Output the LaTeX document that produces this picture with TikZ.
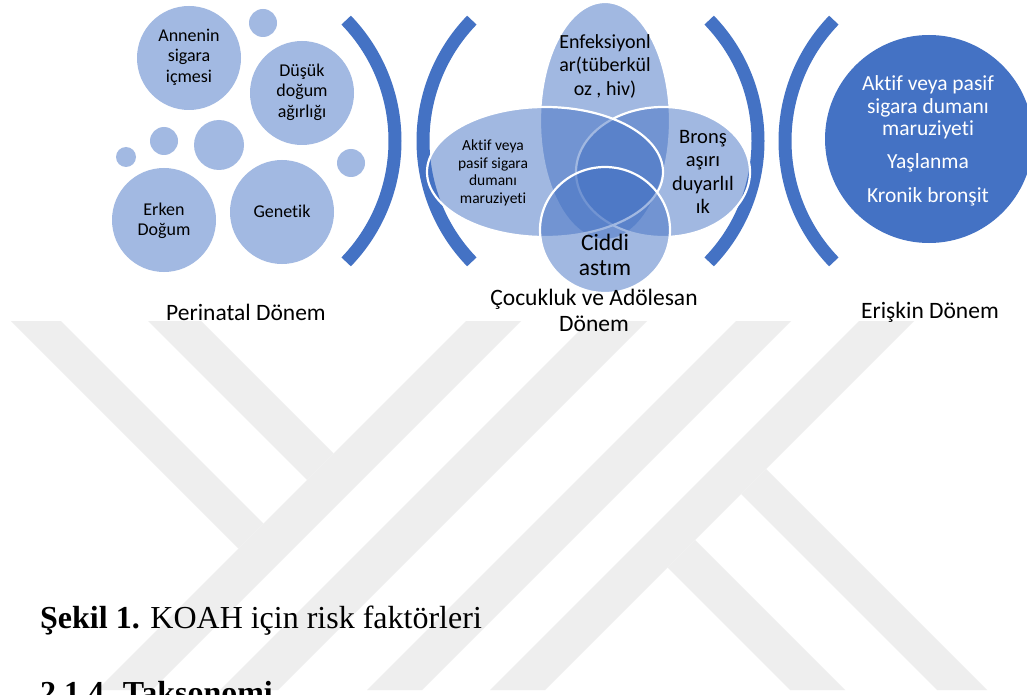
\documentclass[tikz,border=0pt]{standalone}
\usepackage{fontspec}
\setmainfont{Carlito}[Ligatures=NoCommon]
\newfontfamily\tnr{Liberation Serif}
\definecolor{acc}{HTML}{4472C4}
\definecolor{lb}{HTML}{A2B9E2}
\definecolor{wm}{HTML}{EEEEEE}
\newcommand{\myfs}[2]{\fontsize{#1}{#2}\selectfont}
\begin{document}
\begin{tikzpicture}[x=1pt,y=-1pt,
  bub/.style={circle, fill=lb, inner sep=0},
  ven/.style={fill=acc, fill opacity=0.5, draw=white, draw opacity=1, line width=2.2pt},
  brk/.style={draw=acc, line width=13pt},
  txt/.style={inner sep=0, align=center, text=black},
  lab/.style={inner sep=0, align=center, text=black, font=\myfs{23.5}{26}},
]
\fill[white] (0,0) rectangle (1027,695);
\useasboundingbox (0,0) rectangle (1027,695);
% watermark
\fill[wm] (466,321) -- (521,321) -- (152,690) -- (97,690) -- cycle;
\fill[wm] (589,321) -- (647,321) -- (278,690) -- (220,690) -- cycle;
\fill[wm] (736,321) -- (791,321) -- (422,690) -- (367,690) -- cycle;
\fill[wm] (859,321) -- (914,321) -- (545,690) -- (490,690) -- cycle;
\fill[wm] (11,321) -- (61,321) -- (263.5,523.5) -- (238.5,548.5) -- cycle;
\fill[wm] (148,321) -- (201,321) -- (333.5,453.5) -- (307,480) -- cycle;
\fill[wm] (766,469) -- (987,690) -- (937,690) -- (741,494) -- cycle;
\fill[wm] (695,540) -- (845,690) -- (790,690) -- (667.5,567.5) -- cycle;

% perinatal bubbles
\node[bub, minimum size=104pt] (anne) at (189,58) {};
\node[bub, minimum size=28pt] (s1) at (263,23) {};
\node[bub, minimum size=104pt] (dusuk) at (302,93) {};
\node[bub, minimum size=50pt] (m1) at (219,145) {};
\node[bub, minimum size=28pt] (s2) at (164,141) {};
\node[bub, minimum size=20pt] (s3) at (126,157) {};
\node[bub, minimum size=104pt] (erken) at (164,220) {};
\node[bub, minimum size=104pt] (gen) at (282,212) {};
\node[bub, minimum size=28pt] (s4) at (351,163) {};
\node[txt, font=\myfs{18}{20.5}] (tanne) at (189,57) {Annenin\\sigara\\içmesi};
\node[txt, font=\myfs{18}{20.5}] (tdusuk) at (302,92) {Düşük\\doğum\\ağırlığı};
\node[txt, font=\myfs{18}{19.5}] (terken) at (164,221) {Erken\\Doğum};
\node[txt, font=\myfs{18}{20.5}] (tgen) at (282,211) {Genetik};

% brackets
\draw[brk] (221,141) ++(-44:174) arc[start angle=-44, end angle=44, radius=174];
\draw[brk] (597,141) ++(136:174) arc[start angle=136, end angle=224, radius=174];
\draw[brk] (584,141) ++(-44:174) arc[start angle=-44, end angle=44, radius=174];
\draw[brk] (959,141) ++(136:174) arc[start angle=136, end angle=224, radius=174];

% venn
\draw[ven] (605,121) ellipse [x radius=65, y radius=119];
\draw[ven] (663,172) ellipse [x radius=87, y radius=65];
\draw[ven] (545,172) ellipse [x radius=118, y radius=65];
\draw[ven] (605,230) ellipse [x radius=65, y radius=63];
\node[txt, font=\myfs{20}{23.5}] (tenf) at (605,66) {Enfeksiyonl\\ar(tüberkül\\oz , hiv)};
\node[txt, font=\myfs{15.5}{17.5}] (takt) at (493,173) {Aktif veya\\pasif sigara\\dumanı\\maruziyeti};
\node[txt, font=\myfs{20.5}{23.5}] (tbron) at (703,172) {Bronş\\aşırı\\duyarlıl\\ık};
\node[txt, font=\myfs{23.5}{25}] (tcid) at (605,255) {Ciddi\\astım};

% adult
\node[circle, fill=acc, minimum size=208pt, inner sep=0] (adult) at (929,139) {};
\node[inner sep=0, align=center, text=white, font=\myfs{21.5}{22.5}] (tadult) at (928,141)
  {Aktif veya pasif\\sigara dumanı\\maruziyeti\\[10.5pt]Yaşlanma\\[11.5pt]Kronik bronşit};

% labels
\node[lab] (lper) at (246,312) {Perinatal Dönem};
\node[lab] (lcoc) at (594,310) {Çocukluk ve Adölesan\\Dönem};
\node[lab] (ler) at (930,312) {Erişkin Dönem};

% caption
\node[anchor=base west, inner sep=0] (cap) at (40,628) {\tnr\myfs{32}{36}\textbf{Şekil 1.} KOAH için risk faktörleri};
\node[anchor=base west, inner sep=0] (sec) at (40,703) {\tnr\myfs{32}{36}\textbf{2.1.4. Taksonomi}};
\end{tikzpicture}
\end{document}
